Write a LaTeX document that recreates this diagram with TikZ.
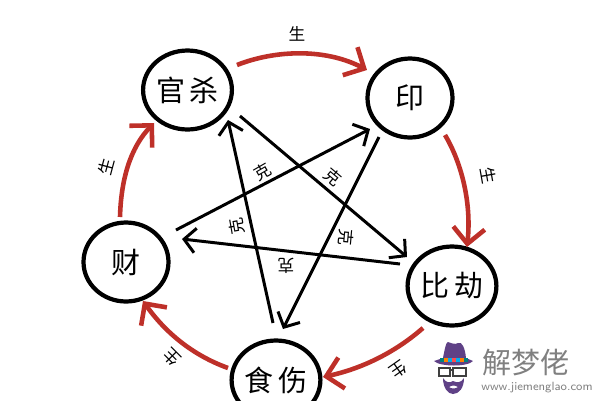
\documentclass[tikz,border=0pt]{standalone}
\usepackage{fontspec}
\newfontfamily\cjk{Noto Sans CJK SC}
\usetikzlibrary{arrows.meta,shapes.geometric}
\definecolor{shengred}{HTML}{BE3029}
\definecolor{hatpurple}{HTML}{5F4186}
\definecolor{logogrey}{HTML}{808080}
\tikzset{
  wuxing/.style={ellipse,draw=black,line width=2.4pt,minimum width=1.70cm,minimum height=1.58cm,inner sep=0pt,font=\cjk\fontsize{16.5}{16.5}\selectfont},
  sheng/.style={draw=shengred,line width=2.6pt,-{Straight Barb[length=9pt,width=18pt,line width=2.6pt]}},
  ke/.style={draw=black,line width=1.7pt,-{Straight Barb[length=6.5pt,width=14pt,line width=1.7pt]}},
  small/.style={font=\cjk\fontsize{9.5}{9.5}\selectfont,inner sep=0pt}
}
\begin{document}
\begin{tikzpicture}[x=0.02cm,y=-0.02cm,line cap=butt,line join=miter]
  \useasboundingbox (0,0) rectangle (600,400);
  \clip (0,0) rectangle (600,400);
  \fill[white] (0,0) rectangle (600,400);

  % Circles
  \node[wuxing] (guansha) at (187.5,90) {官\,杀};
  \node[wuxing] (yin) at (410,98) {印};
  \node[wuxing] (bijie) at (452,286) {比\,劫};
  \node[wuxing] (shishang) at (276,380) {食\,伤};
  \node[wuxing] (cai) at (126,262) {财};

  % Outer ring
  \draw[sheng] ([shift={(49.5,-25)}]guansha.center) .. controls (275,50) and (325,48) .. ([shift={(-43,-28)}]yin.center);
  \draw[sheng] ([shift={(35,37)}]yin.center) .. controls (460,160) and (472,200) .. ([shift={(15,-39)}]bijie.center);
  \draw[sheng] ([shift={(-29,42)}]bijie.center) .. controls (398,350) and (365,368) .. ([shift={(47,-3)}]shishang.center);
  \draw[sheng] ([shift={(-48,-12)}]shishang.center) .. controls (192,355) and (165,332) .. ([shift={(17,39)}]cai.center);
  \draw[sheng] ([shift={(-6,-45)}]cai.center) .. controls (121,180) and (130,148) .. ([shift={(-33.5,33)}]guansha.center);

  % Star
  \draw[ke] ([shift={(-3,-57)}]shishang.center) -- ([shift={(40.5,30)}]guansha.center);
  \draw[ke] ([shift={(50,-32)}]cai.center) -- ([shift={(-40,31)}]yin.center);
  \draw[ke] ([shift={(-31,39)}]yin.center) -- ([shift={(7,-51)}]shishang.center);
  \draw[ke] ([shift={(52.5,26)}]guansha.center) -- ([shift={(-45,-29)}]bijie.center);
  \draw[ke] ([shift={(-52,-22)}]bijie.center) -- ([shift={(56,-23)}]cai.center);

  % Labels
  \node[small] (s1) at (297,34) {生};
  \node[small,rotate=-80] (s2) at (488,176) {生};
  \node[small,rotate=-145] (s3) at (398,370) {生};
  \node[small,rotate=135] (s4) at (172,357) {生};
  \node[small,rotate=75] (s5) at (106,167) {生};
  \node[small,rotate=30] (k1) at (263,172) {克};
  \node[small,rotate=-40] (k2) at (333,177) {克};
  \node[small,rotate=-95] (k3) at (346,237) {克};
  \node[small,rotate=180] (k4) at (286,266) {克};
  \node[small,rotate=100] (k5) at (237,226) {克};

  % Logo
  \fill[hatpurple] (434,361) -- (443,358) .. controls (445,348) and (446,342) .. (448,342) .. controls (451,343) and (455,345) .. (458,343) .. controls (462,341) and (465,348) .. (466,358) -- (473,361) .. controls (468,367) and (440,367) .. (434,361) -- cycle;
  \foreach \x/\c in {440/teal,444/orange,448/cyan,452/red!70,456/cyan,460/orange,464/teal}
    \fill[\c] (\x,357.5) rectangle ++(4,4);
  \draw[black!75,line width=1pt] (439,368) rectangle (450,376) (453,368) rectangle (466,376) (450,370) -- (453,370);
  \fill[hatpurple,even odd rule] (443,378) .. controls (443,388) and (448,394) .. (453,394) .. controls (459,394) and (464,388) .. (464,378) .. controls (461,383) and (457,383) .. (453,381) .. controls (450,383) and (446,383) .. (443,378) -- cycle
    (449,387) .. controls (452,385) and (455,385) .. (458,387) .. controls (455,389) and (452,389) .. (449,387) -- cycle;
  \node[font=\cjk\fontsize{16.5}{16.5}\selectfont,text=logogrey,inner sep=0pt] (logo) at (526,363) {解梦佬};
  \node[font=\sffamily\fontsize{6.8}{6.8}\selectfont,text=logogrey,inner sep=0pt] (url) at (537,388) {www.jiemenglao.com};
\end{tikzpicture}
\end{document}
